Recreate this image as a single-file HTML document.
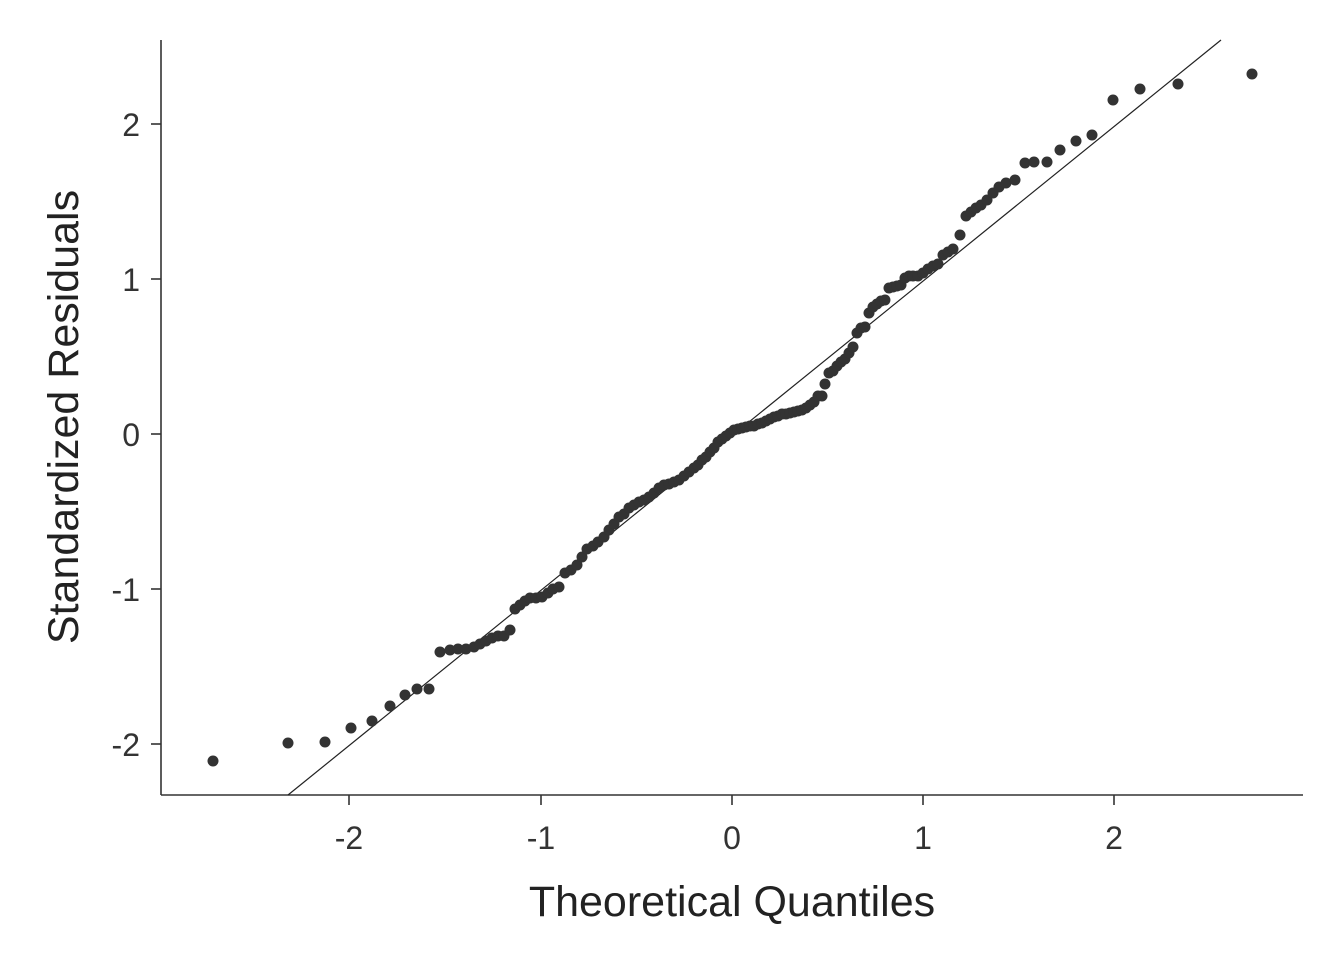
<!DOCTYPE html>
<html><head><meta charset="utf-8"><style>body{margin:0;background:#fff}</style></head>
<body>
<svg width="1344" height="960" viewBox="0 0 1344 960" xmlns="http://www.w3.org/2000/svg" font-family="Liberation Sans, Arial, sans-serif">
<rect width="1344" height="960" fill="#fff"/>
<g stroke="#333" stroke-width="1.6" fill="none">
<line x1="161" y1="40" x2="161" y2="795"/>
<line x1="161" y1="795" x2="1303" y2="795"/>
<line x1="151" y1="124" x2="161" y2="124"/>
<line x1="151" y1="279" x2="161" y2="279"/>
<line x1="151" y1="434" x2="161" y2="434"/>
<line x1="151" y1="589" x2="161" y2="589"/>
<line x1="151" y1="744" x2="161" y2="744"/>
<line x1="349" y1="795" x2="349" y2="805"/>
<line x1="541" y1="795" x2="541" y2="805"/>
<line x1="732" y1="795" x2="732" y2="805"/>
<line x1="923" y1="795" x2="923" y2="805"/>
<line x1="1114" y1="795" x2="1114" y2="805"/>
</g>
<line x1="288" y1="795" x2="1221" y2="40" stroke="#222" stroke-width="1.2"/>
<g fill="#333" font-size="32" text-anchor="end">
<text x="140" y="136">2</text><text x="140" y="291">1</text><text x="140" y="446">0</text><text x="140" y="601">-1</text><text x="140" y="756">-2</text>
</g>
<g fill="#333" font-size="32" text-anchor="middle">
<text x="349" y="849">-2</text><text x="541" y="849">-1</text><text x="732" y="849">0</text><text x="923" y="849">1</text><text x="1114" y="849">2</text>
</g>
<text x="732" y="916" font-size="43" fill="#222" text-anchor="middle">Theoretical Quantiles</text>
<text transform="translate(78,417) rotate(-90)" font-size="43" fill="#222" text-anchor="middle">Standardized Residuals</text>
<g fill="#333">
<circle cx="213" cy="761" r="5.5"/><circle cx="288" cy="743" r="5.5"/><circle cx="325" cy="742" r="5.5"/><circle cx="351" cy="728" r="5.5"/><circle cx="372" cy="721" r="5.5"/><circle cx="390" cy="706" r="5.5"/><circle cx="405" cy="695" r="5.5"/><circle cx="417" cy="689" r="5.5"/><circle cx="429" cy="689" r="5.5"/><circle cx="440" cy="652" r="5.5"/><circle cx="450" cy="650" r="5.5"/><circle cx="458" cy="649" r="5.5"/><circle cx="466" cy="649" r="5.5"/><circle cx="474" cy="647" r="5.5"/><circle cx="480" cy="644" r="5.5"/><circle cx="486" cy="641" r="5.5"/><circle cx="492" cy="638" r="5.5"/><circle cx="498" cy="636" r="5.5"/><circle cx="504" cy="636" r="5.5"/><circle cx="510" cy="630" r="5.5"/><circle cx="515" cy="609" r="5.5"/><circle cx="520" cy="605" r="5.5"/><circle cx="525" cy="601" r="5.5"/><circle cx="530" cy="598" r="5.5"/><circle cx="536" cy="598" r="5.5"/><circle cx="542" cy="597" r="5.5"/><circle cx="548" cy="593" r="5.5"/><circle cx="553" cy="589" r="5.5"/><circle cx="559" cy="587" r="5.5"/><circle cx="565" cy="573" r="5.5"/><circle cx="571" cy="570" r="5.5"/><circle cx="577" cy="565" r="5.5"/><circle cx="582" cy="557" r="5.5"/><circle cx="587" cy="549" r="5.5"/><circle cx="593" cy="546" r="5.5"/><circle cx="598" cy="542" r="5.5"/><circle cx="604" cy="537" r="5.5"/><circle cx="609" cy="530" r="5.5"/><circle cx="614" cy="524" r="5.5"/><circle cx="619" cy="517" r="5.5"/><circle cx="624" cy="514" r="5.5"/><circle cx="629" cy="508" r="5.5"/><circle cx="634" cy="505" r="5.5"/><circle cx="639" cy="502" r="5.5"/><circle cx="644" cy="500" r="5.5"/><circle cx="649" cy="497" r="5.5"/><circle cx="654" cy="493" r="5.5"/><circle cx="659" cy="488" r="5.5"/><circle cx="664" cy="485" r="5.5"/><circle cx="669" cy="484" r="5.5"/><circle cx="674" cy="482" r="5.5"/><circle cx="679" cy="480" r="5.5"/><circle cx="684" cy="476" r="5.5"/><circle cx="689" cy="472" r="5.5"/><circle cx="694" cy="468" r="5.5"/><circle cx="698" cy="465" r="5.5"/><circle cx="702" cy="460" r="5.5"/><circle cx="706" cy="457" r="5.5"/><circle cx="710" cy="452" r="5.5"/><circle cx="714" cy="448" r="5.5"/><circle cx="718" cy="442" r="5.5"/><circle cx="722" cy="439" r="5.5"/><circle cx="726" cy="436" r="5.5"/><circle cx="730" cy="433" r="5.5"/><circle cx="734" cy="430" r="5.5"/><circle cx="738" cy="429" r="5.5"/><circle cx="742" cy="428" r="5.5"/><circle cx="746" cy="427" r="5.5"/><circle cx="750" cy="426" r="5.5"/><circle cx="754" cy="426" r="5.5"/><circle cx="758" cy="424" r="5.5"/><circle cx="762" cy="423" r="5.5"/><circle cx="766" cy="421" r="5.5"/><circle cx="770" cy="419" r="5.5"/><circle cx="774" cy="417" r="5.5"/><circle cx="778" cy="416" r="5.5"/><circle cx="782" cy="414" r="5.5"/><circle cx="786" cy="414" r="5.5"/><circle cx="790" cy="413" r="5.5"/><circle cx="794" cy="412" r="5.5"/><circle cx="798" cy="411" r="5.5"/><circle cx="802" cy="410" r="5.5"/><circle cx="806" cy="408" r="5.5"/><circle cx="810" cy="405" r="5.5"/><circle cx="814" cy="402" r="5.5"/><circle cx="818" cy="396" r="5.5"/><circle cx="822" cy="396" r="5.5"/><circle cx="825" cy="384" r="5.5"/><circle cx="829" cy="373" r="5.5"/><circle cx="833" cy="371" r="5.5"/><circle cx="837" cy="366" r="5.5"/><circle cx="841" cy="362" r="5.5"/><circle cx="845" cy="359" r="5.5"/><circle cx="849" cy="353" r="5.5"/><circle cx="853" cy="347" r="5.5"/><circle cx="857" cy="333" r="5.5"/><circle cx="861" cy="328" r="5.5"/><circle cx="865" cy="327" r="5.5"/><circle cx="869" cy="313" r="5.5"/><circle cx="873" cy="307" r="5.5"/><circle cx="877" cy="304" r="5.5"/><circle cx="881" cy="301" r="5.5"/><circle cx="885" cy="300" r="5.5"/><circle cx="889" cy="288" r="5.5"/><circle cx="893" cy="287" r="5.5"/><circle cx="897" cy="286" r="5.5"/><circle cx="901" cy="285" r="5.5"/><circle cx="905" cy="278" r="5.5"/><circle cx="909" cy="276" r="5.5"/><circle cx="913" cy="276" r="5.5"/><circle cx="918" cy="276" r="5.5"/><circle cx="923" cy="273" r="5.5"/><circle cx="928" cy="269" r="5.5"/><circle cx="933" cy="266" r="5.5"/><circle cx="938" cy="264" r="5.5"/><circle cx="943" cy="255" r="5.5"/><circle cx="948" cy="252" r="5.5"/><circle cx="953" cy="249" r="5.5"/><circle cx="960" cy="235" r="5.5"/><circle cx="966" cy="216" r="5.5"/><circle cx="971" cy="212" r="5.5"/><circle cx="976" cy="208" r="5.5"/><circle cx="981" cy="205" r="5.5"/><circle cx="987" cy="200" r="5.5"/><circle cx="993" cy="193" r="5.5"/><circle cx="999" cy="187" r="5.5"/><circle cx="1006" cy="183" r="5.5"/><circle cx="1015" cy="180" r="5.5"/><circle cx="1025" cy="163" r="5.5"/><circle cx="1034" cy="162" r="5.5"/><circle cx="1047" cy="162" r="5.5"/><circle cx="1060" cy="150" r="5.5"/><circle cx="1076" cy="141" r="5.5"/><circle cx="1092" cy="135" r="5.5"/><circle cx="1113" cy="100" r="5.5"/><circle cx="1140" cy="89" r="5.5"/><circle cx="1178" cy="84" r="5.5"/><circle cx="1252" cy="74" r="5.5"/>
</g>
</svg>
</body></html>
